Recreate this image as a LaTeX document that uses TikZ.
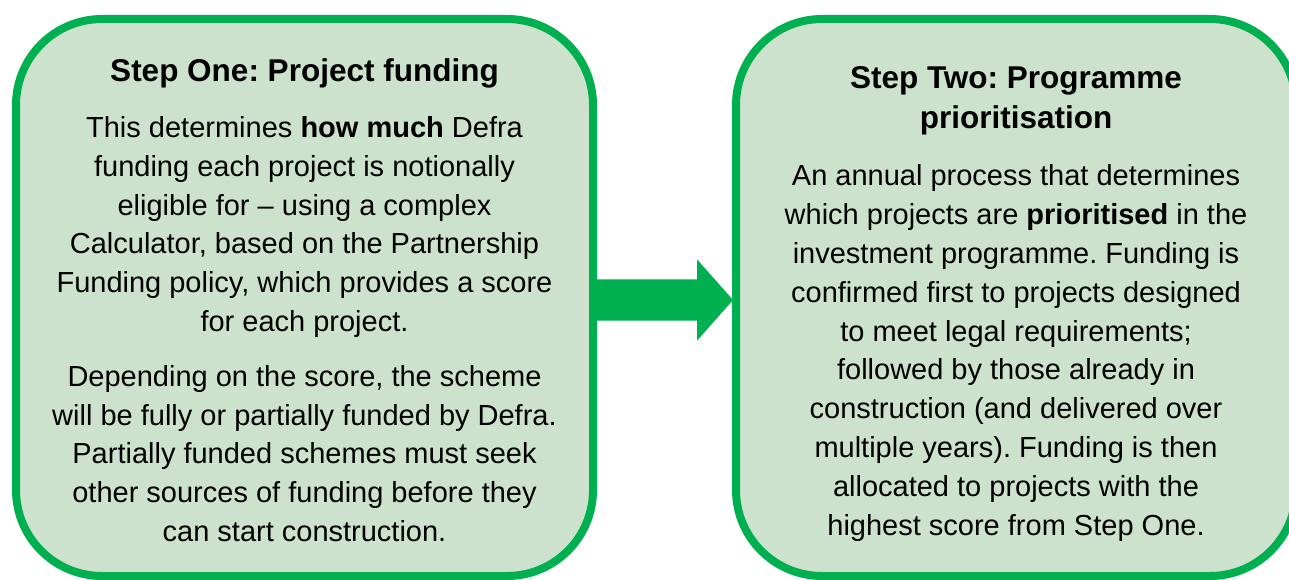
\documentclass[tikz,border=0pt]{standalone}
\usepackage{fontspec}
\setmainfont{Liberation Sans}
\usepackage{tikz}
\usetikzlibrary{shapes,shapes.arrows,positioning}

\definecolor{boxgreen}{RGB}{0,176,80}
\definecolor{boxfill}{RGB}{204,226,205}

\newcommand{\titlefont}{\fontsize{31.5pt}{40pt}\selectfont\bfseries}
\newcommand{\bodyfont}{\fontsize{29pt}{38.8pt}\selectfont}
\frenchspacing

\begin{document}
\begin{tikzpicture}
            \tikzstyle{stepbox} = [draw=boxgreen, fill=boxfill, line width=8pt, rounded corners=86pt,
                                   minimum height=557pt, inner sep=0pt]
            \tikzstyle{steptext} = [align=flush center, inner sep=0pt]
            \tikzstyle{steparrow} = [single arrow, fill=boxgreen, draw=none, outer sep=0pt,
                                     inner xsep=0pt, inner ysep=20.5pt, minimum height=136pt,
                                     single arrow head extend=20pt, single arrow tip angle=97]

            \path[use as bounding box, clip] (0pt,0pt) rectangle (1289pt,-580pt);

            \node[stepbox, minimum width=577pt](one) at (304.5pt,-297.5pt){};
            \node[steparrow, right=0pt of one, yshift=-2.5pt](go){};
            \node[stepbox, minimum width=560pt, right=135pt of one](two){};

            \node[steptext, text width=560pt, below=43pt of one.north](onetext){%
              {\titlefont Step One: Project funding\par}\vspace{17.7pt}
              \bodyfont This determines \textbf{how much} Defra\\
              funding each project is notionally\\
              eligible for -- using a complex\\
              Calculator, based on the Partnership\\
              Funding policy, which provides a score\\
              for each project.\par\vspace{16pt}
              Depending on the score, the scheme\\
              will be fully or partially funded by Defra.\\
              Partially funded schemes must seek\\
              other sources of funding before they\\
              can start construction.\par};
            \node[steptext, text width=530pt, below=51pt of two.north](twotext){%
              {\titlefont Step Two: Programme\\ prioritisation\par}\vspace{19pt}
              \bodyfont An annual process that determines\\
              which projects are \textbf{prioritised} in the\\
              investment programme. Funding is\\
              confirmed first to projects designed\\
              to meet legal requirements;\\
              followed by those already in\\
              construction (and delivered over\\
              multiple years). Funding is then\\
              allocated to projects with the\\
              highest score from Step One.\par};
      \end{tikzpicture}
\end{document}
